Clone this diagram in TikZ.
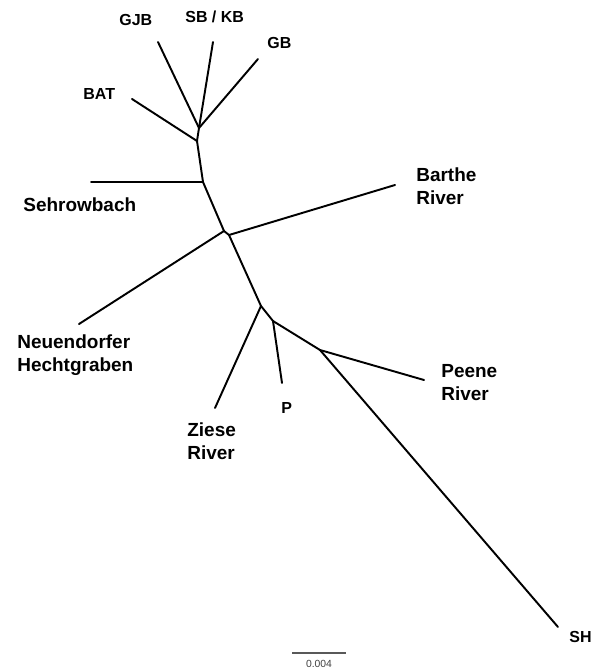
\documentclass[tikz,border=0pt]{standalone}
\usepackage{fontspec}
\setmainfont{Liberation Sans}
\usepackage{tikz}
\tikzstyle{branch} = [line width=1.1pt, draw=black, line cap=round, line join=round]
\tikzstyle{shortlabel} = [inner sep=0pt, anchor=base west, font=\fontsize{9.1}{11}\selectfont\bfseries]
\tikzstyle{longlabel} = [inner sep=0pt, anchor=north west, align=left, font=\fontsize{10.8}{13.2}\selectfont\bfseries]
\tikzstyle{scalebar} = [line width=0.6pt, draw=black!65]

\begin{document}
\begin{tikzpicture}[x=0.02cm, y=-0.02cm] % one unit = one pixel of the figure

\useasboundingbox (0,0) rectangle (600,669);

% Inner nodes of the tree
\coordinate (top_split)   at (199,128);
\coordinate (bat_split)   at (197,141);
\coordinate (sehr_split)  at (203,182);
\coordinate (neu_split)   at (224,231);
\coordinate (barthe_split) at (229,235);
\coordinate (ziese_split) at (261,306);
\coordinate (p_split)     at (273,321);
\coordinate (peene_split) at (320,350);

% Leaf ends
\coordinate (gjb_end)     at (158,42);
\coordinate (sbkb_end)    at (213,42);
\coordinate (gb_end)      at (258,59);
\coordinate (bat_end)     at (132,99);
\coordinate (sehr_end)    at (91,182);
\coordinate (barthe_end)  at (395,185);
\coordinate (neu_end)     at (79,324);
\coordinate (ziese_end)   at (215,408);
\coordinate (p_end)       at (282,383);
\coordinate (peene_end)   at (424,380);
\coordinate (sh_end)      at (558,627);

% Labels
\node (gjb)    [shortlabel] at (119,26)  {GJB};
\node (sbkb)   [shortlabel] at (185,23)  {SB / KB};
\node (gb)     [shortlabel] at (267,49)  {GB};
\node (bat)    [shortlabel] at (83,99)   {BAT};
\node (p)      [shortlabel] at (281,413) {P};
\node (sh)     [shortlabel] at (569,642) {SH};
\node (sehr)   [longlabel, anchor=base west] at (23,211) {Sehrowbach};
\node (barthe) [longlabel] at (416,167) {Barthe\\River};
\node (neu)    [longlabel] at (17,334)  {Neuendorfer\\Hechtgraben};
\node (ziese)  [longlabel] at (187,422) {Ziese\\River};
\node (peene)  [longlabel] at (441,364) {Peene\\River};

% Branches
\draw [branch] (top_split)    -- (gjb_end);
\draw [branch] (top_split)    -- (sbkb_end);
\draw [branch] (top_split)    -- (gb_end);
\draw [branch] (top_split)    -- (bat_split);
\draw [branch] (bat_split)    -- (bat_end);
\draw [branch] (bat_split)    -- (sehr_split);
\draw [branch] (sehr_split)   -- (sehr_end);
\draw [branch] (sehr_split)   -- (neu_split);
\draw [branch] (neu_split)    -- (neu_end);
\draw [branch] (neu_split)    -- (barthe_split);
\draw [branch] (barthe_split) -- (barthe_end);
\draw [branch] (barthe_split) -- (ziese_split);
\draw [branch] (ziese_split)  -- (ziese_end);
\draw [branch] (ziese_split)  -- (p_split);
\draw [branch] (p_split)      -- (p_end);
\draw [branch] (p_split)      -- (peene_split);
\draw [branch] (peene_split)  -- (peene_end);
\draw [branch] (peene_split)  -- (sh_end);

% Scale bar
\coordinate (bar_left)  at (292,653);
\coordinate (bar_right) at (346,653);
\draw [scalebar] (bar_left) -- (bar_right);
\node (bar_value) [inner sep=0pt, text=black!75, font=\fontsize{5.9}{7}\selectfont] at (319,664) {0.004};

\end{tikzpicture}
\end{document}
